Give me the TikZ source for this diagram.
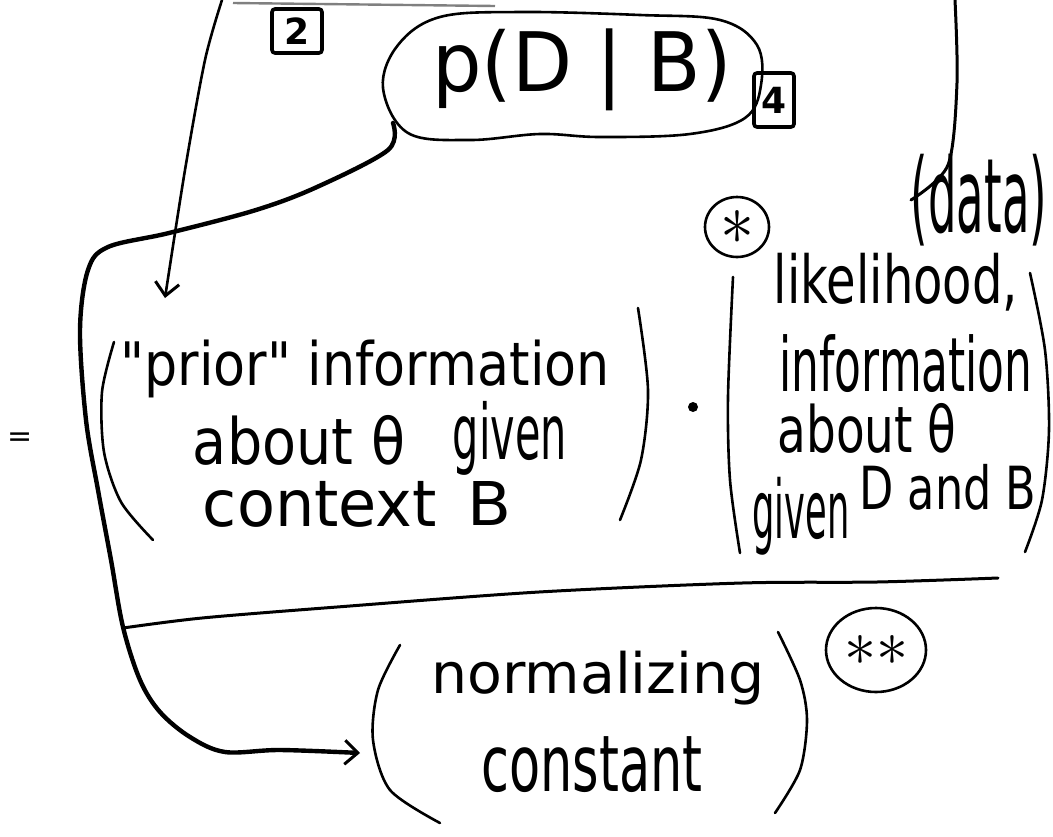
\documentclass[tikz,border=0pt]{standalone}
\usepackage{fontspec}
\setmainfont{DejaVu Sans}[Ligatures=TeXOff]
\usetikzlibrary{arrows.meta,shapes.geometric}
\newcommand\hwt[3]{\resizebox*{#1pt}{#2pt}{#3}}
\begin{document}
\begin{tikzpicture}[x=1pt,y=-1pt,
  ink/.style={line width=2.6pt, line cap=round, line join=round},
  inkthick/.style={line width=4.4pt, line cap=round, line join=round},
  hw/.style={inner sep=0pt, outer sep=0pt},
  numbox/.style={draw, line width=3.6pt, rounded corners=3pt, inner sep=0pt, font=\fontsize{36}{36}\selectfont\bfseries},
  barb/.style={-{Straight Barb[length=13pt,width=24pt,line width=3pt]}}]
\useasboundingbox[fill=white] (0,0) rectangle (1053,836);

% ---------- top: p(D|B) blob and tags ----------
\node[hw] (pdb) at (582,70) {\hwt{300}{82}{p(D | B)}};
\draw[line width=2.6pt, line join=round] plot[smooth cycle, tension=0.6] coordinates
  {(383,88) (398,45) (440,17) (520,12) (640,15) (720,20) (757,45) (761,85) (745,118) (690,134) (600,137) (540,134) (470,140) (408,133)};
\node[numbox, minimum width=50pt, minimum height=44pt] (two) at (297,31) {2};
\node[numbox, minimum width=40pt, minimum height=54pt] (four) at (774,100) {4};

% ---------- data ----------
\node[hw] (data) at (979,200) {\hwt{136}{92}{(data)}};
\coordinate (dtop) at (955,0);
\draw[line width=3pt, line cap=round] plot[smooth] coordinates {(dtop) (957,83) (948,165) (data.west)};

% ---------- prior arrow from top ----------
\coordinate (ptop) at (222,0);
\coordinate (pin) at (165,298);
\draw[ink, barb] plot[smooth] coordinates {(ptop) (205,60) (185,170) (pin)};
\draw[gray, line width=2.4pt] (233,3) -- (495,6);

% ---------- equals sign ----------
\node[hw] (eq) at (20,440) {\fontsize{30}{30}\selectfont =};

% ---------- prior block ----------
\draw[ink] plot[smooth] coordinates {(114,342) (102,392) (104,452) (121,502) (153,540)};
\node[hw] (prior1) at (365,369) {\hwt{489}{58}{"prior" information}};
\node[hw] (prior2) at (299,440) {\hwt{212}{50}{about θ}};
\node[hw] (prior2b) at (510,438) {\hwt{114}{74}{given}};
\node[hw] (prior3) at (320,504) {\hwt{234}{46}{context}};
\node[hw] (prior3b) at (489,503) {\hwt{44}{44}{B}};
\draw[ink] plot[smooth] coordinates {(638,308) (648,390) (641,460) (620,520)};

\fill (693,407) circle [radius=5pt];

% ---------- likelihood block ----------
\node[draw, ellipse, line width=2.6pt, minimum width=64pt, minimum height=60pt, inner sep=0pt] (star) at (737,227) {\resizebox{34pt}{34pt}{$\ast$}};
\draw[ink] plot[smooth] coordinates {(733,277) (728,397) (730,480) (740,553)};
\node[hw] (lik1) at (896,282) {\hwt{244}{58}{likelihood,}};
\node[hw] (lik2) at (906,364) {\hwt{253}{58}{information}};
\node[hw] (lik3) at (867,428) {\hwt{179}{50}{about θ}};
\node[hw] (lik4) at (801,516) {\hwt{97}{78}{given}};
\node[hw] (lik4b) at (948,487) {\hwt{177}{46}{D and B}};
\draw[ink] plot[smooth] coordinates {(1030,273) (1045,350) (1049,430) (1042,500) (1025,552)};

% ---------- fraction bar and normalizing constant ----------
\coordinate (blobsw) at (393,123);
\coordinate (normin) at (360,753);
\draw[inkthick, barb] plot[smooth, tension=0.55] coordinates
  {(blobsw) (388,150) (317,187) (256,210) (169,233) (108,247) (88,270) (80,330) (86,420) (98,490) (111,560) (123,627) (140,680) (160,712) (190,737) (225,752) (280,750) (normin)};
\coordinate (barL) at (123,628);
\coordinate (barR) at (998,578);
\draw[line width=3pt, line cap=round] plot[smooth] coordinates {(barL) (202,618) (337,607) (539,592) (742,583) (877,582) (barR)};

\draw[ink] plot[smooth] coordinates {(400,645) (378,690) (373,740) (390,790) (440,823)};
\node[hw] (norm1) at (598,678) {\hwt{333}{54}{normalizing}};
\node[hw] (norm2) at (592,765) {\hwt{221}{56}{constant}};
\draw[ink] plot[smooth] coordinates {(778,632) (800,680) (807,720) (800,770) (775,813)};
\node[draw, ellipse, line width=2.6pt, minimum width=100pt, minimum height=84pt, inner sep=0pt] (stars) at (876,650) {\resizebox{64pt}{30pt}{$\ast\ast$}};
\end{tikzpicture}
\end{document}
